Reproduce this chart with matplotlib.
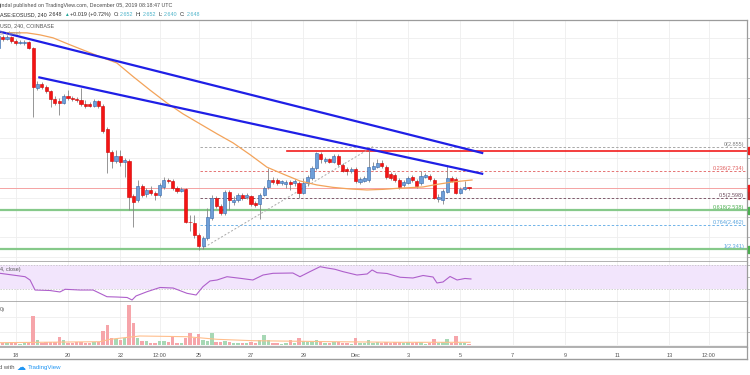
import numpy as np
import pandas as pd
import matplotlib
matplotlib.use("Agg")
import matplotlib.pyplot as plt
from matplotlib.lines import Line2D
from matplotlib.patches import Rectangle

plt.rcParams['font.family'] = ['Liberation Sans', 'DejaVu Sans']

# ---------------- data (EOS/USD 4h, Coinbase) ----------------
opens = [3.350, 3.405, 3.392, 3.402, 3.385, 3.375, 3.372, 3.380, 3.350, 3.149,
         3.169, 3.154, 3.132, 3.094, 3.084, 3.074, 3.109, 3.099, 3.094, 3.089,
         3.069, 3.069, 3.061, 3.084, 3.059, 2.944, 2.828, 2.783, 2.808, 2.778,
         2.783, 2.608, 2.588, 2.658, 2.618, 2.638, 2.621, 2.613, 2.653, 2.688,
         2.683, 2.648, 2.633, 2.642, 2.479, 2.474, 2.413, 2.358, 2.398, 2.498,
         2.598, 2.558, 2.521, 2.630, 2.580, 2.588, 2.613, 2.601, 2.608, 2.573,
         2.568, 2.613, 2.653, 2.688, 2.688, 2.673, 2.668, 2.680, 2.672, 2.673,
         2.625, 2.673, 2.698, 2.748, 2.818, 2.783, 2.792, 2.780, 2.808, 2.763,
         2.743, 2.733, 2.743, 2.680, 2.685, 2.688, 2.745, 2.755, 2.775, 2.755,
         2.718, 2.713, 2.688, 2.663, 2.675, 2.702, 2.685, 2.672, 2.705, 2.708,
         2.688, 2.593, 2.588, 2.630, 2.698, 2.693, 2.625, 2.643, 2.652]
highs = [3.425, 3.415, 3.415, 3.410, 3.395, 3.390, 3.390, 3.385, 3.355, 3.184,
         3.179, 3.164, 3.139, 3.109, 3.099, 3.119, 3.139, 3.109, 3.104, 3.149,
         3.089, 3.079, 3.094, 3.089, 3.069, 2.954, 2.838, 2.838, 2.838, 2.798,
         2.793, 2.618, 2.688, 2.668, 2.648, 2.658, 2.633, 2.673, 2.705, 2.698,
         2.693, 2.658, 2.653, 2.648, 2.513, 2.513, 2.423, 2.408, 2.548, 2.613,
         2.608, 2.568, 2.638, 2.638, 2.608, 2.623, 2.623, 2.623, 2.613, 2.583,
         2.623, 2.658, 2.748, 2.703, 2.698, 2.688, 2.688, 2.688, 2.693, 2.683,
         2.698, 2.713, 2.758, 2.830, 2.828, 2.803, 2.798, 2.818, 2.818, 2.773,
         2.753, 2.753, 2.753, 2.703, 2.708, 2.852, 2.778, 2.795, 2.788, 2.763,
         2.728, 2.723, 2.698, 2.688, 2.708, 2.713, 2.693, 2.735, 2.723, 2.718,
         2.698, 2.618, 2.643, 2.763, 2.708, 2.703, 2.653, 2.683, 2.652]
lows = [3.340, 3.385, 3.390, 3.375, 3.365, 3.370, 3.365, 3.345, 3.004, 3.139,
        3.144, 3.124, 3.054, 3.064, 3.014, 3.069, 3.089, 3.084, 3.079, 3.059,
        3.049, 3.054, 3.054, 3.049, 2.924, 2.723, 2.748, 2.773, 2.758, 2.703,
        2.538, 2.453, 2.578, 2.603, 2.603, 2.613, 2.588, 2.603, 2.643, 2.673,
        2.638, 2.623, 2.628, 2.473, 2.433, 2.398, 2.338, 2.343, 2.388, 2.488,
        2.548, 2.513, 2.513, 2.538, 2.563, 2.578, 2.588, 2.593, 2.558, 2.553,
        2.493, 2.608, 2.643, 2.668, 2.663, 2.663, 2.648, 2.638, 2.658, 2.598,
        2.618, 2.658, 2.688, 2.738, 2.773, 2.773, 2.773, 2.773, 2.758, 2.728,
        2.713, 2.723, 2.673, 2.668, 2.678, 2.678, 2.738, 2.748, 2.748, 2.693,
        2.688, 2.678, 2.643, 2.653, 2.668, 2.678, 2.648, 2.663, 2.698, 2.683,
        2.592, 2.579, 2.568, 2.623, 2.678, 2.618, 2.618, 2.638, 2.640]
closes = [3.410, 3.392, 3.405, 3.385, 3.375, 3.381, 3.380, 3.350, 3.154, 3.169,
          3.154, 3.132, 3.094, 3.074, 3.074, 3.109, 3.099, 3.094, 3.089, 3.069,
          3.059, 3.061, 3.084, 3.059, 2.934, 2.828, 2.783, 2.808, 2.778, 2.788,
          2.603, 2.579, 2.658, 2.613, 2.638, 2.623, 2.611, 2.663, 2.688, 2.683,
          2.648, 2.631, 2.643, 2.479, 2.475, 2.413, 2.358, 2.398, 2.504, 2.598,
          2.558, 2.521, 2.630, 2.588, 2.588, 2.613, 2.598, 2.613, 2.566, 2.563,
          2.613, 2.648, 2.688, 2.678, 2.675, 2.681, 2.678, 2.668, 2.683, 2.623,
          2.673, 2.701, 2.748, 2.823, 2.793, 2.793, 2.780, 2.808, 2.767, 2.735,
          2.733, 2.743, 2.685, 2.693, 2.698, 2.753, 2.758, 2.775, 2.758, 2.702,
          2.698, 2.688, 2.655, 2.680, 2.697, 2.688, 2.658, 2.708, 2.713, 2.692,
          2.597, 2.605, 2.635, 2.697, 2.685, 2.625, 2.643, 2.653, 2.648]
volumes = [0.30, 0.20, 0.20, 0.33, 0.20, 0.15, 0.20, 0.30, 2.90, 0.50,
           0.20, 0.30, 0.33, 0.33, 0.83, 0.50, 0.20, 0.20, 0.30, 0.30,
           0.25, 0.25, 0.30, 0.33, 1.43, 2.00, 0.67, 0.57, 0.50, 0.67,
           4.00, 2.23, 0.67, 0.40, 0.40, 0.20, 0.20, 0.40, 0.40, 0.30,
           0.77, 0.20, 0.20, 0.67, 1.17, 0.67, 1.10, 0.50, 0.40, 1.17,
           0.30, 0.30, 0.40, 0.30, 0.20, 0.25, 0.20, 0.20, 0.30, 0.20,
           0.50, 1.00, 0.50, 0.20, 0.20, 0.15, 0.20, 0.50, 0.20, 0.67,
           0.40, 0.30, 0.40, 0.50, 0.30, 0.20, 0.20, 0.30, 0.30, 0.20,
           0.20, 0.15, 0.67, 0.20, 0.20, 0.50, 0.20, 0.30, 0.20, 0.30,
           0.20, 0.30, 0.30, 0.20, 0.30, 0.20, 0.30, 0.30, 0.15, 0.20,
           0.57, 0.20, 0.30, 0.57, 0.20, 0.90, 0.20, 0.20, 0.10]

# moving average (EMA) of price, read as points (days from Nov 18, price)
ema_days = [-0.60, 0.43, 0.93, 1.43, 2.08, 3.22, 3.87, 4.49, 5.13, 5.78, 6.40, 7.05,
            7.70, 8.31, 8.96, 9.61, 10.22, 10.87, 11.52, 12.13, 12.78, 13.43, 14.05,
            14.58, 15.58, 16.11, 16.72, 17.45]
ema_vals = [3.426, 3.425, 3.415, 3.400, 3.365, 3.306, 3.274, 3.206, 3.139, 3.074, 3.019,
            2.969, 2.919, 2.874, 2.815, 2.752, 2.718, 2.683, 2.663, 2.651, 2.643, 2.638,
            2.641, 2.646, 2.653, 2.666, 2.678, 2.688]

# RSI (14) points
rsi_days = [-0.60, 0.36, 0.55, 0.74, 1.31, 1.69, 1.89, 2.46, 2.96, 3.22, 3.49, 3.87, 4.26,
            4.45, 4.60, 5.02, 5.52, 6.02, 6.55, 6.90, 7.16, 7.43, 7.70, 8.08, 8.58, 9.07,
            9.46, 9.84, 10.60, 10.87, 11.25, 11.64, 11.90, 12.21, 12.52, 13.05, 13.44,
            13.63, 13.82, 14.20, 14.70, 15.19, 15.58, 15.96, 16.11, 16.34, 16.61, 16.88,
            17.18, 17.41]
rsi_vals = [56.3, 50.7, 45.2, 28.8, 28.0, 25.6, 30.0, 28.8, 28.8, 23.4, 17.8, 17.3, 16.5,
            12.4, 19.0, 26.0, 33.0, 32.1, 23.4, 20.6, 34.3, 43.7, 45.3, 50.7, 48.1, 45.3,
            53.5, 56.3, 56.8, 50.7, 59.0, 67.2, 65.1, 62.9, 59.0, 53.5, 55.2, 61.8, 57.3,
            56.0, 49.8, 48.6, 52.7, 50.2, 40.4, 42.0, 51.1, 45.3, 47.8, 47.0]

# volume moving average points
vma_days = [-0.60, 3.22, 3.61, 4.75, 6.55, 7.70, 9.07, 12.13, 14.70, 17.38]
vma_vals = [0.23, 0.33, 0.57, 0.90, 0.83, 0.57, 0.43, 0.33, 0.27, 0.27]

# drawn trend lines (days, price)
trend1_days, trend1_vals = [-0.60, 17.88], [3.431, 2.822]
trend2_days, trend2_vals = [0.864, 17.88], [3.203, 2.718]
resist_price, resist_start = 2.833, 10.36
last_price = 2.648
fib_low, fib_high = (7.09, 2.341), (13.66, 2.855)
fib_ratios = [0, 0.236, 0.5, 0.618, 0.764, 1]
fib_prices = [2.855, 2.734, 2.598, 2.538, 2.462, 2.341]
support_prices = [2.538, 2.341]

tick_days = [0, 2, 4, 5.5, 7, 9, 11, 13, 15, 17, 19, 21, 23, 25, 26.5]
tick_labels = ["18", "20", "22", "12:00", "25", "27", "29", "Dec", "3", "5", "7", "9",
               "11", "13", "12:00"]

# ---------------- figure ----------------
W, H = 750, 375
fig = plt.figure(figsize=(7.5, 3.75), dpi=100)

def box(x0, y0, x1, y1):
    return [x0 / W, 1 - y1 / H, (x1 - x0) / W, (y1 - y0) / H]

def ftext(x, y, s, **kw):
    kw.setdefault('fontsize', 4.0)
    kw.setdefault('va', 'center')
    return fig.text(x / W, 1 - y / H, s, **kw)

times = pd.date_range("2019-11-17 08:00", periods=len(opens), freq="4h")
t = ((times - pd.Timestamp("2019-11-18")) / pd.Timedelta("1D")).to_numpy()
o = np.array(opens); h = np.array(highs); l = np.array(lows); c = np.array(closes)
v = np.array(volumes)
up = c >= o

XLIM = (-0.600, 27.966)
GRID = "#EEEEEE"
SEP = "#9C9C9C"

ax = fig.add_axes(box(0, 19.5, 747, 262))
ax_rsi = fig.add_axes(box(0, 262, 747, 302))
ax_vol = fig.add_axes(box(0, 302, 747, 346.5))

for a in (ax, ax_rsi, ax_vol):
    a.set_xlim(*XLIM)
    a.set_facecolor("white")
    for d in tick_days:
        a.axvline(d, color=GRID, lw=0.6, zorder=0)
    a.spines['left'].set_visible(False)
    a.spines['top'].set_visible(False)
    a.spines['right'].set_color(SEP)
    a.spines['right'].set_linewidth(0.9)
    a.spines['bottom'].set_color(SEP)
    a.spines['bottom'].set_linewidth(1.1)
    a.set_xticks([])
    a.tick_params(axis='y', which='both', left=False, right=True, labelleft=False,
                  labelright=False, length=2, color="#A0A0A0", width=0.5)

# ---- main price panel ----
ax.set_ylim(2.277, 3.492)
ax.spines['top'].set_visible(True)
ax.spines['top'].set_color(SEP)
ax.spines['top'].set_linewidth(0.9)
grid_prices = np.round(np.arange(2.3, 3.45, 0.1), 2)
ax.set_yticks(grid_prices)
for gp in grid_prices:
    ax.axhline(gp, color=GRID, lw=0.6, zorder=0)

# horizontal supports and price lines
for sp in support_prices:
    ax.axhline(sp, color="#86C98A", lw=1.6, zorder=1)
ax.axhline(last_price, color="#F5A3A3", lw=0.7, zorder=1)
ax.plot([resist_start, XLIM[1]], [resist_price, resist_price], color="#F21C1C", lw=1.2, zorder=2)

# fibonacci retracement
fib_line_colors = ["#A8A8A8", "#E57373", "#7E5A6B", "#86C98A", "#6FB3E8", "#86C98A"]
fib_text_colors = ["#808080", "#E06060", "#6E4E5E", "#4CAF50", "#5AA5DE", "#5AA5DE"]
ax.plot([fib_low[0], fib_high[0]], [fib_low[1], fib_high[1]], color="#A8A8A8", lw=0.7,
        ls=(0, (2, 2)), zorder=2)
for r, p, lc, tc in zip(fib_ratios, fib_prices, fib_line_colors, fib_text_colors):
    ax.plot([7.05, XLIM[1]], [p, p], color=lc, lw=0.7, ls=(0, (2.5, 2)), zorder=1.5)
    lab = f"{r:g}({p:.3f})"
    ax.text(744 / 747, p + 0.012, lab, transform=ax.get_yaxis_transform(), ha='right',
            va='center', fontsize=4.0, color=tc)

# candles
ax.vlines(t, l, h, color="#858585", lw=0.6, zorder=3)
body_lo = np.minimum(o, c)
body_h = np.maximum(np.abs(c - o), 0.003)
ax.bar(t[up], body_h[up], bottom=body_lo[up], width=0.12, color="#6E9FD8",
       edgecolor="#3466AA", linewidth=0.4, zorder=4)
ax.bar(t[~up], body_h[~up], bottom=body_lo[~up], width=0.12, color="#F41414",
       edgecolor="#D00000", linewidth=0.4, zorder=4)

# moving average and trend lines
ax.plot(ema_days, ema_vals, color="#F3A35A", lw=0.9, zorder=5)
ax.plot(trend1_days, trend1_vals, color="#1F1FE6", lw=1.6, zorder=6, solid_capstyle='butt')
ax.plot(trend2_days, trend2_vals, color="#1F1FE6", lw=1.6, zorder=6, solid_capstyle='butt')

# ---- RSI panel ----
ax_rsi.set_ylim(9.1, 74.9)
ax_rsi.set_yticks([30, 50, 70])
ax_rsi.axhspan(30, 70, color="#F2E5FC", zorder=0.5, lw=0)
for lvl in (30, 70):
    ax_rsi.axhline(lvl, color="#BDBDBD", lw=0.5, ls=(0, (2, 2)), zorder=1)
ax_rsi.plot(rsi_days, rsi_vals, color="#AE5FCB", lw=0.8, zorder=3)

# ---- volume panel ----
ax_vol.set_ylim(-0.15, 4.3)
ax_vol.set_yticks([1.33, 2.83])
for gv in (1.33, 2.83):
    ax_vol.axhline(gv, color=GRID, lw=0.6, zorder=0)
ax_vol.axhspan(-0.15, 0.0, color="#F4F4F4", lw=0, zorder=0.5)
ax_vol.bar(t[up], v[up], width=0.13, color="#A7D8B5", zorder=2)
ax_vol.bar(t[~up], v[~up], width=0.13, color="#F6A5AA", zorder=2)
ax_vol.plot(vma_days, vma_vals, color="#FFBE8C", lw=0.8, zorder=3)
ax_vol.set_xticks(tick_days)
ax_vol.set_xticklabels(tick_labels)
ax_vol.tick_params(axis='x', length=0, pad=4.5, labelsize=4.0, labelcolor="#555555")

# date strip frame
fig.add_artist(Line2D([0, 747 / W], [1 - 359.3 / H, 1 - 359.3 / H], color=SEP, lw=1.0))
fig.add_artist(Line2D([747 / W, 747 / W], [1 - 359.3 / H, 1 - 346.5 / H], color=SEP, lw=0.9))

# right price-axis sliver tags
for (y0, y1, col) in [(147, 154.5, "#F21C1C"), (184.5, 191.5, "#F21C1C"),
                      (191.5, 198.5, "#C62828"), (207, 214.5, "#4CAF50"),
                      (245.5, 253, "#4CAF50")]:
    fig.add_artist(Rectangle((748 / W, 1 - y1 / H), 3 / W, (y1 - y0) / H,
                             color=col, transform=fig.transFigure))

# ---- header and labels ----
ftext(-1, 5.5, "jindal published on TradingView.com, December 05, 2019 08:18:47 UTC",
      color="#4A4A4A", fontsize=3.9)

fig.canvas.draw()
renderer = fig.canvas.get_renderer()
dark = "#2B2B2B"
val = "#4CB3C9"
segments = [("ASE:EOSUSD, 240", dark, 2.5), ("2.648", dark, 1.5), ("▲", "#26A69A", 1.0),
            ("+0.019 (+0.72%)", dark, 2.5), ("O:", dark, 1.0), ("2.652", val, 2.5),
            ("H:", dark, 1.0), ("2.652", val, 2.5), ("L:", dark, 1.0), ("2.640", val, 2.5),
            ("C:", dark, 1.0), ("2.648", val, 0)]
xpos = 0.0
for s, col, gap in segments:
    fs = 3.4 if s == "▲" else 3.9
    tx = ftext(xpos, 14.5, s, color=col, fontsize=fs)
    bb = tx.get_window_extent(renderer)
    xpos = bb.x1 + gap

ftext(0, 25.7, "USD, 240, COINBASE", color="#555555", fontsize=3.9)
ftext(0, 33.5, "3, close)", color="#9A9A9A", fontsize=3.9)
ftext(0, 270, "4, close)", color="#555555", fontsize=3.9)
ftext(0, 310, "0)", color="#555555", fontsize=3.9)

# footer
ftext(-1, 367.5, "d with", color="#555555", fontsize=4.2)
ftext(16.5, 367.3, "☁", color="#2196F3", fontsize=6.5, family=['DejaVu Sans'])
ftext(28, 367.5, "TradingView", color="#2196F3", fontsize=4.4)

fig.savefig("out.png", dpi=100, facecolor="white")
